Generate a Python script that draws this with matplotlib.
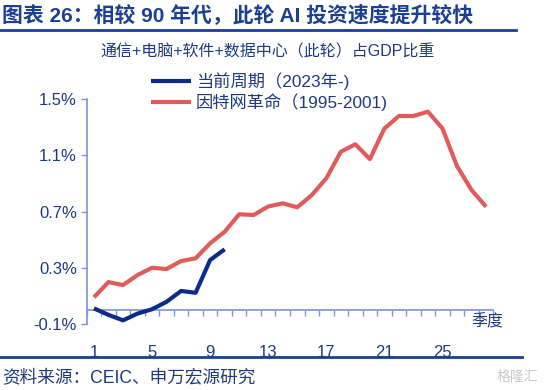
import numpy as np
import matplotlib
matplotlib.use('Agg')
import matplotlib.pyplot as plt
from matplotlib.lines import Line2D
import matplotlib.transforms as mtransforms

plt.rcParams['font.family'] = ['Liberation Sans', 'Noto Sans CJK SC', 'DejaVu Sans']

# quarter index since start of cycle
quarters_now = np.arange(1, 11)
share_now = [0.011, -0.035, -0.074, -0.026, 0.005, 0.058, 0.135, 0.122, 0.355, 0.431]

quarters_90s = np.arange(1, 29)
share_90s = [0.090, 0.198, 0.177, 0.248, 0.300, 0.291, 0.348, 0.367, 0.474, 0.556,
             0.680, 0.675, 0.736, 0.758, 0.730, 0.817, 0.936, 1.125, 1.178, 1.073,
             1.290, 1.379, 1.379, 1.410, 1.290, 1.023, 0.853, 0.734]

yticks = [-0.1, 0.3, 0.7, 1.1, 1.5]
xlabels = [1, 5, 9, 13, 17, 21, 25]

title = '图表 26：相较 90 年代，此轮 AI 投资速度提升较快'
subtitle = '通信+电脑+软件+数据中心（此轮）占GDP比重'
label_now = '当前周期（2023年-)'
label_90s = '因特网革命（1995-2001)'
source = '资料来源：CEIC、申万宏源研究'

navy = '#0c2b8a'
red = '#e05c5c'
axis_col = '#7b96d2'
text_col = '#1d3a80'
title_col = '#1b3f93'

W, H = 544, 390
fig = plt.figure(figsize=(W / 100, H / 100), dpi=100)
ax = fig.add_axes([86.7 / W, (H - 324) / H, (493.3 - 86.7) / W, 225 / H])

ax.plot(quarters_now, share_now, color=navy, lw=3, solid_capstyle='butt', label=label_now, zorder=3)
ax.plot(quarters_90s, share_90s, color=red, lw=3, solid_capstyle='butt', label=label_90s, zorder=2)

ax.set_xlim(0.5, 28.5)
ax.set_ylim(-0.1, 1.5)

# y axis
ax.set_yticks(yticks)
ax.set_yticklabels(['%.1f%%' % v for v in yticks])
ax.tick_params(axis='y', direction='out', length=4, width=1, color=axis_col,
               labelcolor=text_col, labelsize=12, pad=3)

# x axis sits on zero, labels at the bottom
for s in ['top', 'right']:
    ax.spines[s].set_visible(False)
ax.spines['left'].set_color(axis_col)
ax.spines['left'].set_linewidth(1.2)
ax.spines['bottom'].set_position(('data', 0))
ax.spines['bottom'].set_color(axis_col)
ax.spines['bottom'].set_linewidth(1.2)
ax.set_xticks(np.arange(0.5, 29, 1), minor=True)
ax.set_xticks(xlabels)
ax.set_xticklabels([str(v) for v in xlabels])
ax.tick_params(axis='x', which='minor', direction='out', length=4, width=1, color=axis_col)
ax.tick_params(axis='x', which='major', length=0, pad=25, labelcolor=text_col, labelsize=12)

unit_trans = (mtransforms.blended_transform_factory(ax.transAxes, ax.transData)
              + mtransforms.ScaledTranslation(7 / 72, -3 / 72, fig.dpi_scale_trans))
ax.text(1.0, 0, '季度', transform=unit_trans, ha='right', va='top', fontsize=11.5, color=text_col)

leg = ax.legend(loc='upper left', bbox_to_anchor=(151 / W, (H - 72) / H),
                bbox_transform=fig.transFigure, frameon=False, fontsize=12.4,
                handlelength=2.3, handletextpad=0.3, labelspacing=0.22,
                borderpad=0, borderaxespad=0)
for t in leg.get_texts():
    t.set_color(text_col)

# header / footer
fig.text(2 / W, (H - 15) / H, title, fontsize=15, fontweight='bold', color=title_col,
         ha='left', va='center')
fig.add_artist(Line2D([0, 516 / W], [(H - 30) / H] * 2, color=title_col, lw=2))
fig.text(268 / W, (H - 52) / H, subtitle, fontsize=11.5, color=text_col, ha='center', va='center')
fig.add_artist(Line2D([0, 522 / W], [(H - 357) / H] * 2, color=title_col, lw=2))
fig.text(2 / W, (H - 378) / H, source, fontsize=12.7, color=text_col, ha='left', va='center')
fig.text(538 / W, (H - 377) / H, '格隆汇', fontsize=10, color='#c8c8c8', ha='right', va='center')

fig.savefig('out.png', dpi=100)
